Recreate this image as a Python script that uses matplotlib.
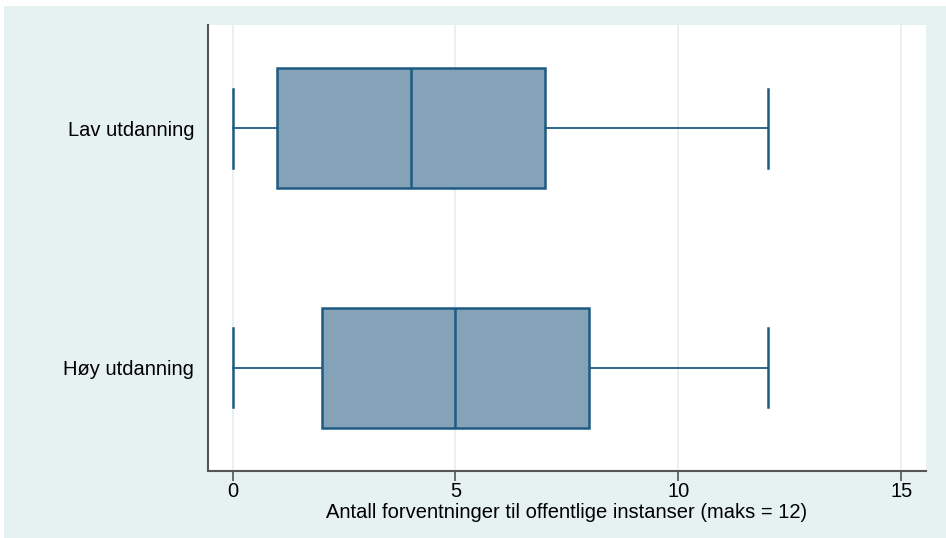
import matplotlib

matplotlib.use("Agg")
import matplotlib.pyplot as plt
from matplotlib.patches import Rectangle

plt.rcParams["font.family"] = ["Liberation Sans", "DejaVu Sans"]

# data
groups = ["Lav utdanning", "Høy utdanning"]
mins = [0, 0]
q1s = [1, 2]
medians = [4, 5]
q3s = [7, 8]
maxs = [12, 12]
x_ticks = [0, 5, 10, 15]
x_label = "Antall forventninger til offentlige instanser (maks = 12)"

bg = "#e6f1f2"
edge = "#1f5a82"
fill = "#85a3b8"
fs = 14.5

fig = plt.figure(figsize=(9.46, 5.38), dpi=100, facecolor="white")
fig.patches.append(Rectangle((4 / 946, 0), 1, (538 - 6) / 538, transform=fig.transFigure,
                             facecolor=bg, edgecolor="none", zorder=-1))

ax = fig.add_axes([208 / 946, (538 - 471) / 538, (925.5 - 208) / 946, (471 - 25) / 538])
ax.set_facecolor("white")

stats = []
for name, lo, a, m, b, hi in zip(groups, mins, q1s, medians, q3s, maxs):
    stats.append({"label": name, "whislo": lo, "q1": a, "med": m, "q3": b, "whishi": hi, "fliers": []})

positions = [1, 0]
ax.bxp(stats, positions=positions, vert=False, widths=0.5, patch_artist=True, showfliers=False,
       boxprops=dict(facecolor=fill, edgecolor=edge, linewidth=1.8),
       medianprops=dict(color=edge, linewidth=1.8),
       whiskerprops=dict(color=edge, linewidth=1.3),
       capprops=dict(color=edge, linewidth=1.8),
       capwidths=0.33)

ax.set_xlim(-0.55, 15.54)
ax.set_ylim(-0.43, 1.43)
ax.set_xticks(x_ticks)
ax.set_xticklabels([str(t) for t in x_ticks], fontsize=fs)
ax.set_yticks(positions)
ax.set_yticklabels(groups, fontsize=fs)
ax.tick_params(axis="y", length=0, pad=10)
ax.tick_params(axis="x", length=7, width=1.2, color="#555555", pad=1)
ax.set_xlabel(x_label, fontsize=fs, labelpad=1)

for x in x_ticks:
    ax.axvline(x, color="#e3eef0", linewidth=1.2, zorder=0)

for side in ["top", "right"]:
    ax.spines[side].set_visible(False)
for side in ["left", "bottom"]:
    ax.spines[side].set_color("#555555")
    ax.spines[side].set_linewidth(1.5)

fig.savefig("out.png", dpi=100, facecolor=fig.get_facecolor())
